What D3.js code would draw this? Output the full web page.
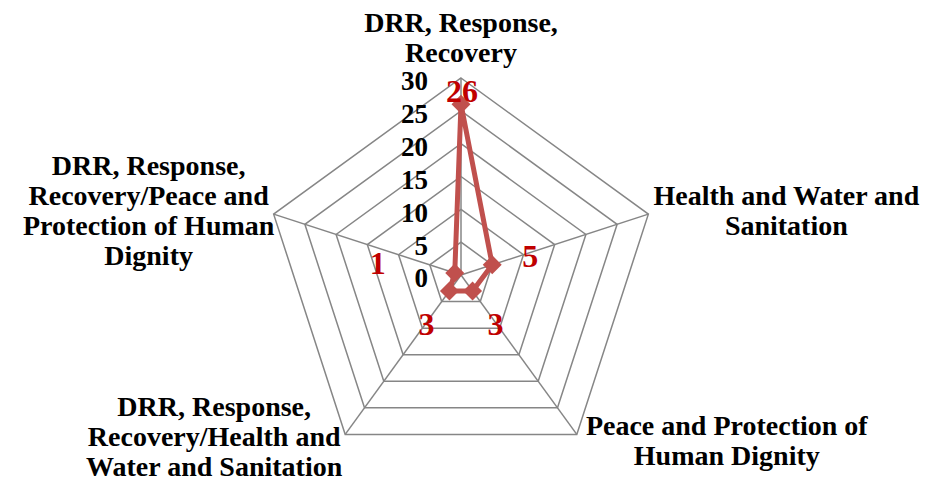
<!DOCTYPE html>
<html>
<head>
<meta charset="utf-8">
<script src="https://cdn.jsdelivr.net/npm/d3@7"></script>
<style>
  body { margin: 0; background: #fff; }
  text { font-family: "Liberation Serif", "DejaVu Serif", serif; font-weight: bold; }
</style>
</head>
<body>
<script>
// categories, one line per array entry (wrapped as in the picture)
const categories = [
  ['DRR, Response,', 'Recovery'],
  ['Health and Water and', 'Sanitation'],
  ['Peace and Protection of', 'Human Dignity'],
  ['DRR, Response,', 'Recovery/Health and', 'Water and Sanitation'],
  ['DRR, Response,', 'Recovery/Peace and', 'Protection of Human', 'Dignity']
];
const values = [26, 5, 3, 3, 1];
const ticks = [0, 5, 10, 15, 20, 25, 30];

const WIDTH = 926, HEIGHT = 483;
const CX = 461, CY = 275, R = 197;
const LINE_H = 30;

// where the category labels sit, relative to the outer corner (dx, first baseline dy)
const catOffset = [[0, -46], [138, -9], [150, 1], [-131, -18], [-125, -39]];
// data label offsets from the marker
const valOffset = [[1, -13], [38, -9], [23, 33], [-23, 33], [-77, -10]];

const svg = d3.select('body').append('svg')
  .attr('width', WIDTH)
  .attr('height', HEIGHT);

const r = d3.scaleLinear().domain([0, 30]).range([0, R]);
const angle = i => i * 2 * Math.PI / categories.length;   // 0 = up, clockwise
const px = (i, v) => CX + r(v) * Math.sin(angle(i));
const py = (i, v) => CY - r(v) * Math.cos(angle(i));

const G = svg.append('g');

// rings
G.selectAll('.ring')
  .data(ticks.slice(1))
  .join('polygon')
  .attr('class', 'ring')
  .attr('points', t => categories.map((c, i) => `${px(i, t)},${py(i, t)}`).join(' '))
  .attr('fill', 'none')
  .attr('stroke', '#868686')
  .attr('stroke-width', 1.5);

// spokes
G.selectAll('.spoke')
  .data(categories)
  .join('line')
  .attr('x1', CX).attr('y1', CY)
  .attr('x2', (c, i) => px(i, 30))
  .attr('y2', (c, i) => py(i, 30))
  .attr('stroke', '#868686')
  .attr('stroke-width', 1.5);

// tick labels along the top spoke
G.selectAll('.tick')
  .data(ticks)
  .join('text')
  .attr('x', CX - 33)
  .attr('y', t => CY - r(t) + 3)
  .attr('dy', '0.35em')
  .attr('text-anchor', 'end')
  .attr('font-size', 27)
  .attr('fill', '#000')
  .text(t => t);

// category labels
categories.forEach((lines, i) => {
  const t = svg.append('text')
    .attr('text-anchor', 'middle')
    .attr('font-size', 28)
    .attr('fill', '#000');
  lines.forEach((l, k) => {
    t.append('tspan')
      .attr('x', px(i, 30) + catOffset[i][0])
      .attr('y', py(i, 30) + catOffset[i][1] + k * LINE_H)
      .text(l);
  });
});

// series
const line = d3.lineRadial()
  .angle((d, i) => angle(i))
  .radius(d => r(d))
  .curve(d3.curveLinearClosed);

svg.append('path')
  .datum(values)
  .attr('transform', `translate(${CX},${CY})`)
  .attr('d', line)
  .attr('fill', 'none')
  .attr('stroke', '#c0504d')
  .attr('stroke-width', 5)
  .attr('stroke-linejoin', 'round');

svg.selectAll('.marker')
  .data(values)
  .join('path')
  .attr('transform', (d, i) => `translate(${px(i, d)},${py(i, d)}) rotate(45)`)
  .attr('d', d3.symbol(d3.symbolSquare, 180))
  .attr('fill', '#c0504d');

// data labels
svg.selectAll('.val')
  .data(values)
  .join('text')
  .attr('x', (d, i) => px(i, d) + valOffset[i][0])
  .attr('y', (d, i) => py(i, d) + valOffset[i][1])
  .attr('dy', '0.35em')
  .attr('text-anchor', 'middle')
  .attr('font-size', 32)
  .attr('fill', '#c00000')
  .text(d => d);
</script>
</body>
</html>
